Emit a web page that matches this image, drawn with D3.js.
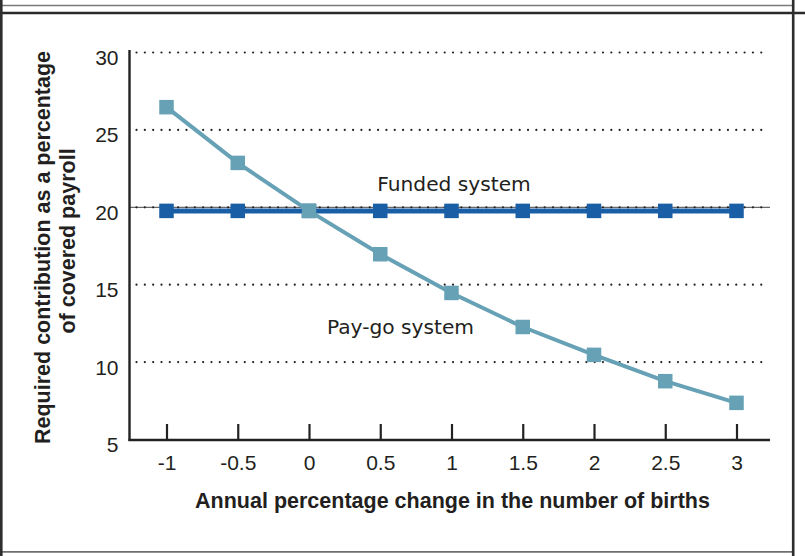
<!DOCTYPE html>
<html>
<head>
<meta charset="utf-8">
<script src="https://cdn.jsdelivr.net/npm/d3@7"></script>
<style>
  html, body { margin: 0; padding: 0; background: #fff; }
  svg { display: block; }
  text { fill: #231f20; }
</style>
</head>
<body>
<svg id="chart" width="805" height="556"></svg>
<script>
// Annual percentage change in the number of births
const births = [-1, -0.5, 0, 0.5, 1, 1.5, 2, 2.5, 3];
// Required contribution (% of covered payroll)
const payGo  = [26.5, 22.9, 19.8, 17.0, 14.5, 12.3, 10.5, 8.8, 7.4];
const funded = [19.8, 19.8, 19.8, 19.8, 19.8, 19.8, 19.8, 19.8, 19.8];
const xTickValues = [-1, -0.5, 0, 0.5, 1, 1.5, 2, 2.5, 3];
const yTickValues = [5, 10, 15, 20, 25, 30];
const gridValues  = [10, 15, 20, 25, 30];

const svg = d3.select("#chart");
const W = 805, H = 556;

// Outer frame
const frame = svg.append("g");
frame.append("line").attr("x1", 0).attr("x2", 793).attr("y1", 5.5).attr("y2", 5.5)
  .attr("stroke", "#7a7a7a").attr("stroke-width", 1.6);
frame.append("line").attr("x1", 0).attr("x2", W).attr("y1", 13).attr("y2", 13)
  .attr("stroke", "#2a2a2a").attr("stroke-width", 2.6);
frame.append("line").attr("x1", 0).attr("x2", 793).attr("y1", 551.8).attr("y2", 551.8)
  .attr("stroke", "#6e6e6e").attr("stroke-width", 1.8);
frame.append("line").attr("x1", 1.3).attr("x2", 1.3).attr("y1", 0).attr("y2", H)
  .attr("stroke", "#2e2e2e").attr("stroke-width", 2.6);
frame.append("line").attr("x1", 793.2).attr("x2", 793.2).attr("y1", 0).attr("y2", H)
  .attr("stroke", "#2e2e2e").attr("stroke-width", 2.6);

// Plot geometry
const plotLeft = 129.5, plotRight = 770, plotBottom = 440, plotTop = 50;

const x = d3.scaleLinear().domain([-1, 3]).range([166.5, 736.5]);
const y = d3.scaleLinear().domain([5, 30]).range([440, 53]);

// Dotted gridlines
const grid = svg.append("g");
grid.selectAll("line.g20").data([20]).join("line")
  .attr("x1", plotLeft).attr("x2", plotRight)
  .attr("y1", d => y(d) - 0.5).attr("y2", d => y(d) - 0.5)
  .attr("stroke", "#444").attr("stroke-width", 1);
grid.selectAll("line.dot").data(gridValues).join("line")
  .attr("x1", 136.5).attr("x2", 768)
  .attr("y1", d => y(d) - 0.5).attr("y2", d => y(d) - 0.5)
  .attr("stroke", "#222").attr("stroke-width", 2.2)
  .attr("stroke-linecap", "round")
  .attr("stroke-dasharray", "0.01 8.32");

// Axes lines
svg.append("line").attr("x1", plotLeft).attr("x2", plotLeft)
  .attr("y1", plotTop).attr("y2", plotBottom + 1)
  .attr("stroke", "#222").attr("stroke-width", 2.4);
svg.append("line").attr("x1", plotLeft - 1).attr("x2", plotRight)
  .attr("y1", plotBottom).attr("y2", plotBottom)
  .attr("stroke", "#222").attr("stroke-width", 2.6);

const tickFont = "'Liberation Sans', Arial, sans-serif";

// X axis ticks (pointing up) and labels
const xAxis = d3.axisBottom(x).tickValues(xTickValues)
  .tickSizeInner(-16).tickSizeOuter(0).tickPadding(30)
  .tickFormat(d => String(d));
const gx = svg.append("g").attr("transform", `translate(0,${plotBottom})`).call(xAxis);
gx.attr("font-size", 21).attr("font-family", tickFont);
gx.select(".domain").remove();
gx.selectAll(".tick line").attr("stroke", "#222").attr("stroke-width", 2.2);
gx.selectAll(".tick text").attr("fill", "#231f20").attr("dy", "0");

// Y axis labels
const yAxis = d3.axisLeft(y).tickValues(yTickValues)
  .tickSize(0).tickPadding(11).tickFormat(d => String(d));
const gy = svg.append("g").attr("transform", `translate(${plotLeft},0)`).call(yAxis);
gy.attr("font-size", 21).attr("font-family", tickFont);
gy.select(".domain").remove();
gy.selectAll(".tick text").attr("fill", "#231f20").attr("dy", "0.55em");

// Series
const line = d3.line().x((d, i) => x(births[i])).y(d => y(d));
const M = 14.5;

const fundedColor = "#1a5ea5";
const payGoColor = "#66a1b5";

svg.append("path").datum(funded)
  .attr("d", line).attr("fill", "none")
  .attr("stroke", fundedColor).attr("stroke-width", 5);
svg.append("g").selectAll("rect").data(funded).join("rect")
  .attr("x", (d, i) => x(births[i]) - M / 2)
  .attr("y", d => y(d) - M / 2)
  .attr("width", M).attr("height", M)
  .attr("fill", fundedColor);

svg.append("path").datum(payGo)
  .attr("d", line).attr("fill", "none")
  .attr("stroke", payGoColor).attr("stroke-width", 4);
svg.append("g").selectAll("rect").data(payGo).join("rect")
  .attr("x", (d, i) => x(births[i]) - M / 2)
  .attr("y", d => y(d) - M / 2)
  .attr("width", M).attr("height", M)
  .attr("fill", payGoColor);

// Series labels
svg.append("text").attr("x", 454).attr("y", 191)
  .attr("text-anchor", "middle")
  .attr("font-family", "'DejaVu Sans', sans-serif").attr("font-size", 20.2)
  .text("Funded system");
svg.append("text").attr("x", 400.5).attr("y", 333.5)
  .attr("text-anchor", "middle")
  .attr("font-family", "'DejaVu Sans', sans-serif").attr("font-size", 20.2)
  .text("Pay-go system");

// Axis titles
const titleFont = "'Liberation Sans', Arial, sans-serif";
svg.append("text")
  .attr("transform", "translate(50,247.5) rotate(-90)")
  .attr("text-anchor", "middle")
  .attr("font-family", titleFont)
  .attr("font-weight", "bold").attr("font-size", 21.5)
  .text("Required contribution as a percentage");
svg.append("text")
  .attr("transform", "translate(75,241) rotate(-90)")
  .attr("text-anchor", "middle")
  .attr("font-family", titleFont)
  .attr("font-weight", "bold").attr("font-size", 21.5)
  .text("of covered payroll");
svg.append("text").attr("x", 452.5).attr("y", 507.5)
  .attr("text-anchor", "middle")
  .attr("font-family", titleFont)
  .attr("font-weight", "bold").attr("font-size", 21.5)
  .text("Annual percentage change in the number of births");
</script>
</body>
</html>
